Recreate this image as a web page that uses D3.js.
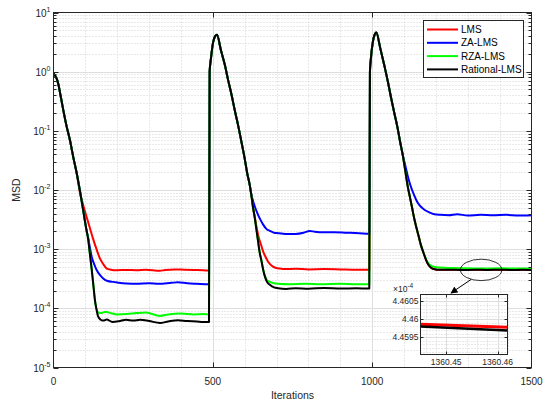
<!DOCTYPE html>
<html>
<head>
<meta charset="utf-8">
<script src="https://cdn.jsdelivr.net/npm/d3@7"></script>
<style>
body { margin: 0; background: #fff; }
text { font-family: "Liberation Sans", Arial, Helvetica, sans-serif; }
</style>
</head>
<body>
<svg id="chart" width="548" height="404"></svg>
<script>
// ---- data ----
var xTicks = [0, 500, 1000, 1500];
var yExponents = [-5, -4, -3, -2, -1, 0, 1];
var names = ["LMS", "ZA-LMS", "RZA-LMS", "Rational-LMS"];
var colors = ["#ff0000", "#0000ff", "#00ff00", "#000000"];

// transient parts where all curves lie on top of each other (Rational-LMS path)
var drop1 = [[0,0.93],[5,0.86],[10,0.76],[15,0.62],[22,0.4],[31,0.22],[41,0.12],[52,0.068],[62,0.036],[73,0.019],[83,0.0097],[93,0.0046],[101,0.0025],[109,0.00145],[114,0.00085],[120,0.00045],[125,0.00025],[130,0.000138],[135,0.000096],[140,0.000073],[147,0.000065],[156,0.000062]];
var drop2 = [[490,1.0],[494,1.66],[501,3.16],[507,3.95],[513,4.2],[525,2.35],[538,1.28],[548,0.72],[559,0.40],[569,0.22],[579,0.126],[590,0.064],[600,0.034],[608,0.019],[616,0.012],[621,0.0081],[626,0.0052],[632,0.0033],[637,0.0021],[642,0.00135],[647,0.00088],[653,0.00062],[658,0.00045],[663,0.00035],[670,0.00028],[679,0.00025],[692,0.000226],[705,0.000219]];
var drop3 = [[993,1.0],[996,1.66],[1002,3.16],[1007,4.1],[1013,4.6],[1025,2.55],[1038,1.28],[1049,0.69],[1059,0.37],[1070,0.195],[1080,0.11],[1088,0.064],[1096,0.039],[1104,0.021],[1111,0.012],[1118,0.0078],[1125,0.0051],[1132,0.0033],[1139,0.0023],[1146,0.00165],[1153,0.00117],[1161,0.00087],[1169,0.00066],[1176,0.00055],[1184,0.00049],[1196,0.000457],[1211,0.000447]];

// per-algorithm parts after the curves split
var lms1 = [[83,0.0090],[93,0.0056],[104,0.0035],[114,0.0023],[125,0.00145],[135,0.001],[146,0.00069],[156,0.00056],[167,0.00047],[180,0.00045],[198,0.00044],[230,0.000445],[260,0.00044],[290,0.00045],[334,0.00043],[350,0.000445],[380,0.000455],[410,0.00045],[440,0.000445],[470,0.00044],[488,0.000435]];
var lms2 = [[626,0.0050],[632,0.0034],[637,0.0024],[642,0.00174],[650,0.00125],[658,0.00091],[666,0.00073],[673,0.00062],[684,0.00053],[694,0.00049],[710,0.00047],[726,0.00046],[760,0.000465],[800,0.000455],[850,0.00046],[900,0.000455],[950,0.00045],[991,0.00045]];
var lms3 = [[1240,0.000448],[1280,0.000446],[1320,0.000449],[1360,0.000446],[1400,0.000449],[1440,0.000446],[1470,0.000447],[1500,0.000446]];

var za1 = [[104,0.002],[109,0.00155],[114,0.00108],[120,0.00074],[127,0.00057],[135,0.00045],[145,0.00037],[156,0.00032],[170,0.00029],[188,0.00028],[210,0.000268],[230,0.000263],[260,0.00026],[300,0.000265],[330,0.00026],[370,0.00027],[390,0.000275],[420,0.000265],[450,0.00026],[488,0.000255]];
var za2 = [[621,0.0083],[626,0.0066],[632,0.0052],[642,0.0038],[650,0.0031],[658,0.0026],[668,0.0022],[679,0.00204],[692,0.0019],[705,0.00186],[720,0.00182],[736,0.0018],[760,0.00181],[785,0.0019],[804,0.00203],[820,0.00197],[850,0.00193],[880,0.00194],[920,0.0019],[960,0.00186],[991,0.00182]];
var za3 = [[1104,0.026],[1111,0.0178],[1120,0.012],[1132,0.0081],[1142,0.0062],[1153,0.0052],[1165,0.0046],[1179,0.0042],[1195,0.0039],[1215,0.0038],[1240,0.00375],[1267,0.0039],[1300,0.0037],[1340,0.0038],[1380,0.00375],[1420,0.0038],[1460,0.0037],[1500,0.00375]];

var rza1 = [[142,0.000084],[151,0.000083],[160,0.000087],[167,0.000087],[180,0.000083],[198,0.000079],[230,0.00008],[260,0.000083],[290,0.000085],[334,0.0000745],[360,0.000079],[400,0.000082],[440,0.000079],[470,0.00008],[488,0.000079]];
var rza2 = [[663,0.00036],[670,0.0003],[679,0.00028],[692,0.000265],[705,0.00026],[740,0.000255],[790,0.00026],[840,0.000255],[900,0.00026],[950,0.000255],[991,0.000255]];
var rza3 = [[1169,0.00068],[1176,0.00058],[1184,0.00053],[1196,0.0005],[1211,0.00049],[1250,0.00048],[1300,0.000475],[1350,0.00047],[1400,0.000475],[1450,0.00047],[1500,0.00047]];

var rat1 = [[167,0.0000645],[185,0.000059],[205,0.0000605],[228,0.000064],[250,0.000062],[272,0.000064],[300,0.000061],[334,0.0000565],[360,0.00006],[390,0.000063],[420,0.000061],[450,0.00006],[470,0.000059],[488,0.000059]];
var rat2 = [[730,0.000213],[760,0.000218],[800,0.000215],[850,0.00022],[900,0.000216],[950,0.000218],[991,0.000216]];
var rat3 = [[1240,0.00045],[1280,0.000445],[1320,0.000448],[1360,0.000446],[1400,0.00045],[1440,0.000445],[1470,0.000447],[1500,0.000445]];

// zoomed inset (values x1e-4)
var insetIter = [1360.445, 1360.4619];
var insetLMS = [4.45986, 4.45978];
var insetRational = [4.45980, 4.45969];
var insetXTicks = [1360.45, 1360.46];
var insetYTicks = [4.4595, 4.46, 4.4605];

function upTo(arr, k) { return arr.filter(function (d) { return d[0] <= k; }); }

var series = [
	upTo(drop1, 73).concat(lms1, upTo(drop2, 621), lms2, drop3, lms3),
	upTo(drop1, 101).concat(za1, upTo(drop2, 616), za2, upTo(drop3, 1096), za3),
	upTo(drop1, 135).concat(rza1, upTo(drop2, 658), rza2, upTo(drop3, 1161), rza3),
	drop1.concat(rat1, drop2, rat2, drop3, rat3)
];

// ---- layout ----
var M = {left: 53.5, right: 531.5, top: 12.5, bottom: 367.5};
var axisColor = "#262626";
var svg = d3.select("#chart");

var x = d3.scaleLinear().domain([0, 1500]).range([M.left, M.right]);
var y = d3.scaleLog().domain([1e-5, 10]).range([M.bottom, M.top]);

// grid
var minorY = [];
yExponents.slice(0, -1).forEach(function (e) {
	for (var m = 2; m <= 9; m++) minorY.push(m * Math.pow(10, e));
});
var minorX = d3.range(100, 1500, 100).filter(function (v) { return v % 500 !== 0; });

var grid = svg.append("g");
grid.selectAll(".mgy").data(minorY).enter().append("line")
	.attr("x1", M.left).attr("x2", M.right)
	.attr("y1", function (d) { return Math.round(y(d)) + 0.5; })
	.attr("y2", function (d) { return Math.round(y(d)) + 0.5; })
	.attr("stroke", "#d2d2d2").attr("stroke-dasharray", "1,2");
grid.selectAll(".mgx").data(minorX).enter().append("line")
	.attr("y1", M.top).attr("y2", M.bottom)
	.attr("x1", function (d) { return Math.round(x(d)) + 0.5; })
	.attr("x2", function (d) { return Math.round(x(d)) + 0.5; })
	.attr("stroke", "#d2d2d2").attr("stroke-dasharray", "1,2");
grid.selectAll(".gy").data(yExponents.slice(1, -1)).enter().append("line")
	.attr("x1", M.left).attr("x2", M.right)
	.attr("y1", function (d) { return Math.round(y(Math.pow(10, d))) + 0.5; })
	.attr("y2", function (d) { return Math.round(y(Math.pow(10, d))) + 0.5; })
	.attr("stroke", "#dedede");
grid.selectAll(".gx").data(xTicks.slice(1, -1)).enter().append("line")
	.attr("y1", M.top).attr("y2", M.bottom)
	.attr("x1", function (d) { return Math.round(x(d)) + 0.5; })
	.attr("x2", function (d) { return Math.round(x(d)) + 0.5; })
	.attr("stroke", "#dedede");

// curves
svg.append("clipPath").attr("id", "plotclip").append("rect")
	.attr("x", M.left).attr("y", M.top)
	.attr("width", M.right - M.left).attr("height", M.bottom - M.top);

var line = d3.line()
	.x(function (d) { return x(d[0]); })
	.y(function (d) { return y(d[1]); })
	.curve(d3.curveMonotoneX);

svg.append("g").attr("clip-path", "url(#plotclip)")
	.selectAll("path").data(series).enter().append("path")
	.attr("d", line)
	.attr("fill", "none")
	.attr("stroke", function (d, i) { return colors[i]; })
	.attr("stroke-width", 2)
	.attr("stroke-linejoin", "round");

// axes box and ticks
var ticks = svg.append("g").attr("stroke", axisColor);
xTicks.slice(1, -1).forEach(function (v) {
	var px = Math.round(x(v)) + 0.5;
	ticks.append("line").attr("x1", px).attr("x2", px).attr("y1", M.bottom).attr("y2", M.bottom - 5);
	ticks.append("line").attr("x1", px).attr("x2", px).attr("y1", M.top).attr("y2", M.top + 5);
});
yExponents.forEach(function (e) {
	var py = Math.round(y(Math.pow(10, e))) + 0.5;
	ticks.append("line").attr("x1", M.left).attr("x2", M.left + 5).attr("y1", py).attr("y2", py);
	ticks.append("line").attr("x1", M.right).attr("x2", M.right - 5).attr("y1", py).attr("y2", py);
});
minorY.forEach(function (v) {
	var py = Math.round(y(v)) + 0.5;
	ticks.append("line").attr("x1", M.left).attr("x2", M.left + 3).attr("y1", py).attr("y2", py);
	ticks.append("line").attr("x1", M.right).attr("x2", M.right - 3).attr("y1", py).attr("y2", py);
});
svg.append("rect")
	.attr("x", M.left).attr("y", M.top)
	.attr("width", M.right - M.left).attr("height", M.bottom - M.top)
	.attr("fill", "none").attr("stroke", axisColor);

// tick labels
svg.selectAll(".xl").data(xTicks).enter().append("text")
	.attr("x", function (d) { return x(d); })
	.attr("y", M.bottom + 17)
	.attr("text-anchor", "middle")
	.attr("font-size", 10).attr("fill", axisColor)
	.text(function (d) { return d; });

var yl = svg.selectAll(".yl").data(yExponents).enter().append("text")
	.attr("x", M.left - 3)
	.attr("y", function (d) { return y(Math.pow(10, d)) + 4; })
	.attr("text-anchor", "end")
	.attr("font-size", 10).attr("fill", axisColor);
yl.append("tspan").text("10");
yl.append("tspan").attr("dy", -5).attr("font-size", 7)
	.text(function (d) { return d; });

svg.append("text")
	.attr("x", (M.left + M.right) / 2).attr("y", 399)
	.attr("text-anchor", "middle").attr("font-size", 10.5).attr("fill", axisColor)
	.text("Iterations");
svg.append("text")
	.attr("transform", "translate(20," + ((M.top + M.bottom) / 2) + ") rotate(-90)")
	.attr("text-anchor", "middle").attr("font-size", 10.5).attr("fill", axisColor)
	.text("MSD");

// legend
var lg = svg.append("g");
lg.append("rect").attr("x", 423.5).attr("y", 20.5).attr("width", 100).attr("height", 57)
	.attr("fill", "#fff").attr("stroke", axisColor);
names.forEach(function (n, i) {
	var ly = 29.5 + i * 13.3;
	lg.append("line").attr("x1", 427).attr("x2", 458).attr("y1", ly).attr("y2", ly)
		.attr("stroke", colors[i]).attr("stroke-width", 2);
	lg.append("text").attr("x", 461).attr("y", ly + 3.6)
		.attr("font-size", 10).attr("fill", "#000").text(n);
});

// ellipse marking the zoomed region and arrow
var ex = x(1342), ey = y(4.46e-4);
svg.append("ellipse").attr("cx", ex).attr("cy", ey).attr("rx", 20.7).attr("ry", 10.7)
	.attr("fill", "none").attr("stroke", "#000").attr("stroke-width", 0.8);
svg.append("defs").append("marker").attr("id", "arrowhead")
	.attr("viewBox", "0 0 10 10").attr("refX", 9).attr("refY", 5)
	.attr("markerWidth", 7).attr("markerHeight", 7).attr("markerUnits", "userSpaceOnUse")
	.attr("orient", "auto")
	.append("path").attr("d", "M0,0 L10,5 L0,10 z").attr("fill", "#000");
svg.append("line").attr("x1", ex - 10).attr("y1", ey + 9.5).attr("x2", 451).attr("y2", 293)
	.attr("stroke", "#000").attr("stroke-width", 1).attr("marker-end", "url(#arrowhead)");

// ---- inset ----
var I = {left: 420.5, right: 507.5, top: 294.5, bottom: 354.5};
var ix = d3.scaleLinear().domain(insetIter).range([I.left, I.right]);
var iy = d3.scaleLinear().domain([4.45902, 4.46069]).range([I.bottom, I.top]);
var ins = svg.append("g");
ins.append("rect").attr("x", I.left).attr("y", I.top)
	.attr("width", I.right - I.left).attr("height", I.bottom - I.top).attr("fill", "#fff");

var iMinorY = d3.range(4.4591, 4.4607, 0.0001).filter(function (v) {
	return insetYTicks.every(function (t) { return Math.abs(t - v) > 1e-6; });
});
var iMinorX = d3.range(1360.446, 1360.462, 0.002).filter(function (v) {
	return insetXTicks.every(function (t) { return Math.abs(t - v) > 1e-6; });
});
ins.selectAll(".imy").data(iMinorY).enter().append("line")
	.attr("x1", I.left).attr("x2", I.right)
	.attr("y1", function (d) { return Math.round(iy(d)) + 0.5; })
	.attr("y2", function (d) { return Math.round(iy(d)) + 0.5; })
	.attr("stroke", "#d2d2d2").attr("stroke-dasharray", "1,2");
ins.selectAll(".imx").data(iMinorX).enter().append("line")
	.attr("y1", I.top).attr("y2", I.bottom)
	.attr("x1", function (d) { return Math.round(ix(d)) + 0.5; })
	.attr("x2", function (d) { return Math.round(ix(d)) + 0.5; })
	.attr("stroke", "#d2d2d2").attr("stroke-dasharray", "1,2");
ins.selectAll(".igy").data(insetYTicks).enter().append("line")
	.attr("x1", I.left).attr("x2", I.right)
	.attr("y1", function (d) { return Math.round(iy(d)) + 0.5; })
	.attr("y2", function (d) { return Math.round(iy(d)) + 0.5; })
	.attr("stroke", "#dedede");
ins.selectAll(".igx").data(insetXTicks).enter().append("line")
	.attr("y1", I.top).attr("y2", I.bottom)
	.attr("x1", function (d) { return Math.round(ix(d)) + 0.5; })
	.attr("x2", function (d) { return Math.round(ix(d)) + 0.5; })
	.attr("stroke", "#dedede");

ins.append("clipPath").attr("id", "insetclip").append("rect")
	.attr("x", I.left).attr("y", I.top)
	.attr("width", I.right - I.left).attr("height", I.bottom - I.top);
var iline = d3.line()
	.x(function (d, i) { return ix(insetIter[i]); })
	.y(function (d) { return iy(d); });
var ilines = ins.append("g").attr("clip-path", "url(#insetclip)");
ilines.append("path").attr("d", iline(insetLMS)).attr("fill", "none")
	.attr("stroke", colors[0]).attr("stroke-width", 3);
ilines.append("path").attr("d", iline(insetRational)).attr("fill", "none")
	.attr("stroke", colors[3]).attr("stroke-width", 2.5);

insetXTicks.forEach(function (v) {
	var px = Math.round(ix(v)) + 0.5;
	ins.append("line").attr("x1", px).attr("x2", px).attr("y1", I.bottom).attr("y2", I.bottom - 3).attr("stroke", axisColor);
	ins.append("line").attr("x1", px).attr("x2", px).attr("y1", I.top).attr("y2", I.top + 3).attr("stroke", axisColor);
});
insetYTicks.forEach(function (v) {
	var py = Math.round(iy(v)) + 0.5;
	ins.append("line").attr("x1", I.left).attr("x2", I.left + 3).attr("y1", py).attr("y2", py).attr("stroke", axisColor);
	ins.append("line").attr("x1", I.right).attr("x2", I.right - 3).attr("y1", py).attr("y2", py).attr("stroke", axisColor);
});
ins.append("rect").attr("x", I.left).attr("y", I.top)
	.attr("width", I.right - I.left).attr("height", I.bottom - I.top)
	.attr("fill", "none").attr("stroke", axisColor);

ins.selectAll(".ixl").data(insetXTicks).enter().append("text")
	.attr("x", function (d) { return ix(d); }).attr("y", I.bottom + 10.5)
	.attr("text-anchor", "middle").attr("font-size", 8.5).attr("fill", axisColor)
	.text(function (d) { return d3.format(".2f")(d); });
ins.selectAll(".iyl").data(insetYTicks).enter().append("text")
	.attr("x", I.left - 2).attr("y", function (d) { return iy(d) + 3; })
	.attr("text-anchor", "end").attr("font-size", 8.5).attr("fill", axisColor)
	.text(function (d) { return String(d); });
var sc = ins.append("text").attr("x", 393).attr("y", 291.5)
	.attr("font-size", 8.5).attr("fill", axisColor);
sc.append("tspan").text("\u00d710");
sc.append("tspan").attr("dy", -4).attr("font-size", 6.5).text("-4");
</script>
</body>
</html>
